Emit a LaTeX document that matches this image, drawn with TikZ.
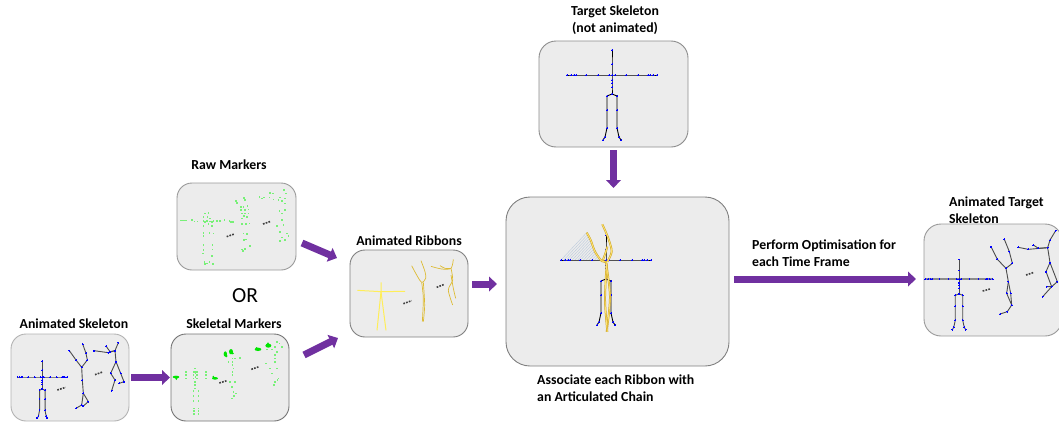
\documentclass[tikz,border=0pt]{standalone}
\usepackage{fontspec}
\setmainfont{Carlito}
\usetikzlibrary{arrows.meta}
\definecolor{boxfill}{HTML}{ECECEC}
\definecolor{purp}{HTML}{7030A0}
\definecolor{softyellow}{HTML}{FFEE58}
\definecolor{gold}{HTML}{DDBB33}
\definecolor{goldedge}{HTML}{C9A227}
\definecolor{goldfill}{HTML}{FFE36E}
\definecolor{fan}{HTML}{BCCADC}
\definecolor{mkgreen}{HTML}{78F078}
\tikzset{
  panel/.style={draw=#1,fill=boxfill,line width=0.9pt,rounded corners=15pt,inner sep=0pt,outer sep=0pt},
  panel/.default={gray!95},
  label/.style={font=\fontsize{13.8}{17}\selectfont\bfseries,inner sep=0pt,text=black},
  bigarrow/.style={draw=purp,line width=7pt,-{Triangle[length=8pt,width=14.5pt,fill=purp]}},
  bone/.style={draw=#1,line width=0.9pt,line join=round,mark=*,mark size=0.42pt,mark options={draw=blue,fill=blue,line width=0pt}},
  bone/.default={black!70},
  rib/.style={draw=#1,line width=0.7pt,line join=round},
  rib/.default={gold},
  band/.style={draw=goldedge,line width=0.5pt,double=goldfill,double distance=0.9pt,line join=round},
  etc/.style={draw=black!75,line width=1.6pt,dash pattern=on 1.7pt off 1.2pt},
  zoomed/.style={shift={#1},x=0.33333pt,y=-0.33333pt},
  mk/.style={fill=mkgreen},
  mkb/.style={fill=green!90!black},
}
\newcommand{\mkdots}[1]{\foreach \mx/\my in {#1} {\fill[mk] (\mx-2.5,\my-2.5) rectangle (\mx+2.5,\my+2.5);}}
\newcommand{\tposefig}[6]{%
  \begin{scope}[shift={#1},x=#2pt,y=-#3pt]
    \draw[bone=#4,line width=#5pt] plot coordinates {(-45,0) (-41,0) (-38,0) (-36,0) (-26,0) (-14,0) (-3,0) (3,0) (14,0) (26,0) (36,0) (38,0) (41,0) (45,0)};
    \draw[bone=#6] plot coordinates {(0,-25) (0,-11) (0,0) (0,5) (0,8) (0,12) (0,19)};
    \draw[bone=#6] plot coordinates {(0,19) (-5,21) (-5,35) (-5,53) (-7,62) (-9,65)};
    \draw[bone=#6] plot coordinates {(0,19) (5,21) (5,35) (5,53) (7,62) (9,65)};
  \end{scope}}
\begin{document}
\begin{tikzpicture}[x=1pt,y=-1pt]
\useasboundingbox (0,0) rectangle (1059,423);
\clip (0,0) rectangle (1059,423);
% panels
\node[panel=black!45,minimum width=149pt,minimum height=106pt,rounded corners=17pt] (tgt) at (613.5,94) {};
\node[panel=black!40,minimum width=119pt,minimum height=87pt] (raw) at (236.5,226.5) {};
\node[panel=black!30,minimum width=118pt,minimum height=87pt] (skel) at (70,377.5) {};
\node[panel=black!55,minimum width=118pt,minimum height=87pt] (skm) at (230,377.5) {};
\node[panel=black!50,minimum width=118pt,minimum height=87pt] (ribs) at (409,293.5) {};
\node[panel=black!50,minimum width=223pt,minimum height=169pt,rounded corners=24pt] (central) at (617.5,281.5) {};
\node[panel=black!40,minimum width=138pt,minimum height=112pt,rounded corners=17pt] (tsk) at (993,280) {};
% arrows
\draw[bigarrow] (skel.east) ++(2,0) -- ([xshift=-1pt]skm.west);
\draw[bigarrow] ([shift={(6,16.5)}]raw.east) -- ([shift={(-13,-35.5)}]ribs.west);
\draw[bigarrow] ([shift={(15,-22.5)}]skm.east) -- ([shift={(-12,44.5)}]ribs.west);
\draw[bigarrow] ([shift={(4,-9.5)}]ribs.east) -- ([shift={(-9,2.5)}]central.west);
\draw[bigarrow] ([yshift=-3pt]tgt.south) -- ([yshift=9pt]tgt.south |- central.north);
\draw[bigarrow] ([xshift=5pt,yshift=1pt]central.east |- tsk.west) -- ([xshift=-8pt,yshift=1pt]tsk.west);
% labels
\node[label,align=center] (lt) at (615,20.5) {Target Skeleton\\(not animated)};
\node[label] (lr) at (229,165) {Raw Markers};
\node[label,font=\fontsize{21.5}{24}\selectfont] (lo) at (245,296) {OR};
\node[label] (la) at (74,324) {Animated Skeleton};
\node[label] (ls) at (234,324) {Skeletal Markers};
\node[label] (lb) at (409,241) {Animated Ribbons};
\node[label,align=left,anchor=west] (lc) at (537,388.5) {Associate each Ribbon with\\an Articulated Chain};
\node[label,align=left,anchor=west] (lp) at (752,253.5) {Perform Optimisation for\\each Time Frame};
\node[label,align=left,anchor=west] (lk) at (949,210.5) {Animated Target\\Skeleton};
% target skeleton
\tposefig{(612,75)}{1}{1}{black}{1}{black}
% animated skeleton panel
\tposefig{(42.3,377)}{0.55}{0.63}{black!70}{1}{black!70}
\begin{scope}[zoomed={(0,330)}]
  \draw[bone] plot coordinates {(208,62) (228,90) (245,112) (262,90) (258,70) (248,42)};
  \draw[bone] plot coordinates {(245,112) (247,150) (250,190) (245,225) (228,235)};
  \draw[bone] plot coordinates {(250,190) (265,215) (250,228)};
  \draw[bone] plot coordinates {(282,62) (325,68) (345,62) (355,38)};
  \draw[bone] plot coordinates {(318,48) (330,65) (345,62) (348,95) (332,130) (345,150) (335,182)};
  \draw[bone] plot coordinates {(348,95) (362,130) (372,155) (358,160)};
  \draw[etc] (172,180) -- (197,172);
  \draw[etc] (285,134) -- (308,126);
\end{scope}
% raw markers
\begin{scope}[zoomed={(170,150)}]
  \mkdots{33/211,38/211,43/211,47/211,65/209,73/214,82/214,100/212,110/213,120/214,130/213,140/212,150/212,163/210,178/212,183/215,188/216,
  105/190,115/188,100/200,112/200,120/205,125/215,105/215,115/222,100/228,125/228,100/248,118/248,130/250,100/258,100/285,127/285,100/300,127/298,98/310,125/318,103/335,110/340,118/336,128/342,105/342}
  \mkdots{198/152,200/158,222/143,225/150,212/170,220/170,232/168,212/180,225/180,235/178,215/190,225/190,235/190,222/197,230/200,215/205,238/220,215/222,228/222,220/250,230/252,222/270,228/268,215/298,225/296,240/288,218/303}
  \mkdots{268/140,275/145,282/142,300/128,308/130,342/120,347/130,298/142,310/148,325/150,335/152,345/145,330/142,345/160,328/182,345/180,335/190,335/210,320/228,340/225,330/245,350/250,355/258,335/262,345/270,330/272}
  \draw[etc] (170,260) -- (193,252);
  \draw[etc] (279,222) -- (302,214);
\end{scope}
% skeletal markers
\begin{scope}[zoomed={(170,330)}]
  \mkdots{47/125,47/135,47/145,107/125,107/135,107/145,75/115,75/125,70/135,80/135,70/145,80/145,75/155,75/165,75/175,70/182,85/182,70/197,85/197,70/212,85/212,72/235,72/243,72/251,85/235,85/243,85/251,76/130,76/140,72/125,80/125}
  \mkdots{187/85,195/85,175/95,187/95,210/83,187/105,190/115,187/125,187/135,180/155,195/155,185/170,190/185,197/190,192/198,185/205}
  \mkdots{320/35,328/40,315/50,335/50,290/58,305/58,320/65,315/75,315/85,315/95,288/100,300/115,320/115,305/130,325/145,315/155,322/150,312/165}
  \fill[mkb] (18,141) ellipse (10 and 4) (19,146) ellipse (3 and 4);
  \fill[mkb] (135,145) ellipse (9 and 4) (130,141) ellipse (3 and 4);
  \fill[mkb] (166,72) ellipse (5 and 8) (169,78) ellipse (4 and 4);
  \fill[mkb] (183,65) ellipse (6 and 8) (188,70) ellipse (4 and 3);
  \fill[mkb] (264,58) ellipse (10 and 5) (260,55) ellipse (4 and 4);
  \fill[mkb] (295,47) ellipse (9 and 6) (294,42) ellipse (4 and 5);
  \draw[etc] (148,159) -- (171,152);
  \draw[etc] (244,118) -- (267,110);
\end{scope}
% animated ribbons
\begin{scope}[zoomed={(285,225)}]
  \draw[rib=softyellow,line width=1pt] (217,196) -- (288,200) -- (360,199);
  \draw[rib=softyellow,line width=1pt] (288,172) -- (288,200) -- (276,316);
  \draw[rib=softyellow,line width=1pt] (288,200) -- (303,316);
  \draw[rib] plot[smooth] coordinates {(380,122) (395,150) (410,172) (422,160) (420,140) (408,107)};
  \draw[rib] plot[smooth] coordinates {(410,172) (415,220) (412,290)};
  \draw[rib] plot[smooth] coordinates {(415,172) (419,240) (415,290)};
  \draw[rib] plot[smooth] coordinates {(438,124) (470,132) (498,130) (505,103)};
  \draw[rib] plot[smooth] coordinates {(465,122) (480,130) (498,130)};
  \draw[rib] plot[smooth] coordinates {(498,130) (503,165) (490,195) (503,240)};
  \draw[rib] plot[smooth] coordinates {(498,150) (505,190) (512,220)};
  \draw[etc] (355,236) -- (380,227);
  \draw[etc] (455,187) -- (478,178);
\end{scope}
% central figure
\begin{scope}[zoomed={(530,190)}]
  \foreach \t in {0,0.07,...,1.0} {
    \draw[fan,line width=0.4pt] ({92+120*\t},211) -- ({170+43*\t},{128+82*\t});
  }
\end{scope}
\tposefig{(606,260)}{1}{1}{black}{1}{black}
\begin{scope}[zoomed={(530,190)}]
  \draw[band] plot[smooth] coordinates {(170,128) (182,150) (195,185) (215,213) (230,215)};
  \draw[band] plot[smooth] coordinates {(217,103) (235,145) (245,185) (232,215)};
  \draw[band] plot[smooth] coordinates {(232,170) (226,190) (218,212)};
  \draw[band] plot[smooth] coordinates {(228,215) (240,320) (230,425)};
  \draw[band] plot[smooth] coordinates {(230,220) (225,330) (232,425)};
\end{scope}
% animated target skeleton panel
\tposefig{(959,279)}{0.75}{0.78}{black!45}{1.4}{black!70}
\begin{scope}[zoomed={(920,220)}]
  \draw[bone] plot coordinates {(213,80) (232,118) (258,145) (277,130) (268,95) (253,58)};
  \draw[bone] plot coordinates {(258,145) (265,185) (260,220) (275,255) (262,275) (240,282)};
  \draw[bone] plot coordinates {(265,185) (272,220) (275,255)};
  \draw[bone] plot coordinates {(295,82) (325,88) (383,83) (390,60) (407,32)};
  \draw[bone] plot coordinates {(340,75) (355,85) (383,83) (390,128) (378,155) (395,200) (368,230)};
  \draw[bone] plot coordinates {(390,128) (412,185) (395,200) (380,200)};
  \draw[etc] (188,213) -- (210,207);
  \draw[etc] (318,165) -- (342,157);
\end{scope}
\end{tikzpicture}
\end{document}
